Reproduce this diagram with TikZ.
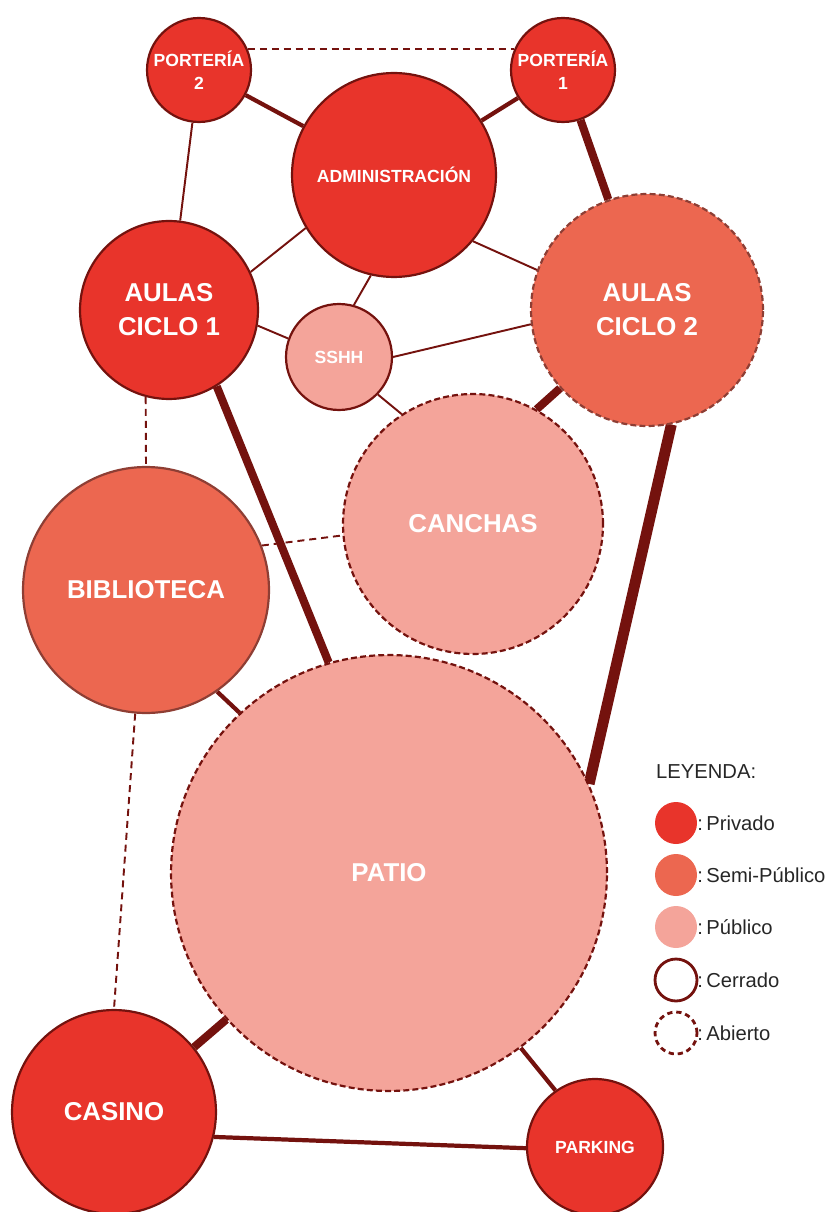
\documentclass[tikz,border=0pt]{standalone}
\usepackage{fontspec}
\setmainfont{Liberation Sans}
\usetikzlibrary{backgrounds}
\definecolor{privado}{HTML}{E8342B}
\definecolor{semipub}{HTML}{EC6750}
\definecolor{publico}{HTML}{F4A49A}
\definecolor{borde}{HTML}{74120E}
\definecolor{bordesemi}{HTML}{8E3E34}
\tikzset{line width=1.1pt,
  every node/.style={text=white},
  zona/.style={circle,draw=borde,line width=1.25pt,inner sep=0pt,align=center},
  priv/.style={zona,fill=privado},
  semi/.style={zona,fill=semipub,draw=bordesemi},
  pub/.style={zona,fill=publico},
  abierto/.style={dash pattern=on 3.4pt off 1.8pt},
  grande/.style={font=\fontsize{14.7}{19.3}\selectfont\bfseries},
  chico/.style={font=\fontsize{10}{13}\selectfont\bfseries},
  nexo/.style={draw=borde,line width=1.1pt},
  nexomed/.style={draw=borde,line width=2.4pt},
  nexogrueso/.style={draw=borde,line width=4.6pt},
  nexomax/.style={draw=borde,line width=6.2pt},
  nexoab/.style={draw=borde,line width=1.1pt,dash pattern=on 4pt off 2.8pt},
  leyenda/.style={anchor=west,text=black!85,font=\fontsize{11.5}{14}\selectfont},
  muestra/.style={circle,inner sep=0pt,minimum size=0.84cm},
  mpriv/.style={muestra,fill=privado},
  msemi/.style={muestra,fill=semipub},
  mpub/.style={muestra,fill=publico},
  mcerr/.style={muestra,draw=borde,fill=white,line width=1.6pt},
  mabie/.style={muestra,draw=borde,fill=white,line width=1.6pt,
    dash pattern=on 3pt off 2.2pt}}

\begin{document}
\begin{tikzpicture}[x=0.02cm,y=-0.02cm]
\useasboundingbox (0,0) rectangle (837,1212);
% zonas
\node[priv,chico,minimum size=2.08cm] (porteria2) at (199,70) {PORTERÍA\\2};
\node[priv,chico,minimum size=2.08cm] (porteria1) at (563,70) {PORTERÍA\\1};
\node[priv,chico,minimum size=4.08cm] (admin) at (394,175) {ADMINISTRACIÓN};
\node[priv,grande,minimum size=3.56cm] (aulas1) at (169,310) {AULAS\\CICLO 1};
\node[pub,chico,minimum size=2.12cm] (sshh) at (339,357) {SSHH};
\node[semi,abierto,grande,minimum size=4.64cm] (aulas2) at (647,310) {AULAS\\CICLO 2};
\node[pub,abierto,grande,minimum size=5.2cm] (canchas) at (473,524) {CANCHAS};
\node[semi,grande,minimum size=4.92cm] (biblio) at (146,590) {BIBLIOTECA};
\node[pub,abierto,grande,minimum size=8.72cm] (patio) at (389,873) {PATIO};
\node[priv,grande,minimum size=4.08cm] (casino) at (114,1112) {CASINO};
\node[priv,chico,minimum size=2.72cm] (parking) at (595,1147) {PARKING};

% conexiones
\begin{scope}[on background layer]
\draw[nexoab] (porteria2.23) -- (porteria1.157);
\draw[nexomed] (porteria2) -- (admin);
\draw[nexomed] (porteria1) -- (admin);
\draw[nexo] (porteria2) -- (aulas1);
\draw[nexogrueso] (porteria1) -- (aulas2);
\draw[nexo] (admin.211) -- (aulas1.25);
\draw[nexo] (admin.-103) -- (sshh.74);
\draw[nexo] (admin.-40) -- (aulas2.160);
\draw[nexo] (aulas1.-10) -- (sshh.160);
\draw[nexo] (sshh.0) -- (aulas2.187);
\draw[nexo] (sshh.-44) -- (canchas.123);
\draw[nexogrueso] (aulas2.222) -- (canchas.61);
\draw[nexogrueso] (aulas1.-58) -- (patio.106);
\draw[nexomax] (aulas2.-78) -- (patio.24);
\draw[nexoab] (aulas1.-105) -- (biblio.90);
\draw[nexoab] (biblio.21) -- (canchas.185);
\draw[nexomed] (biblio.-55) -- (patio.133);
\draw[nexoab] (biblio.-95) -- (casino.90);
\draw[nexogrueso] (patio.222) -- (casino.39);
\draw[nexomed] (patio.-53) -- (parking.125);
\draw[nexomed] (casino.-14) -- (parking.181);
\end{scope}

% leyenda
\node[leyenda] (titulo) at (650,772) {LEYENDA:};
\foreach \y/\estilo/\lab [count=\i] in {823/mpriv/Privado,
    875/msemi/Semi-Público,927/mpub/Público,
    980/mcerr/Cerrado,1033/mabie/Abierto} {
  \node[\estilo] (m\i) at (676,\y) {};
  \node[leyenda,inner sep=0pt] (t\i) at (697,\y) {:\,\lab};
}
\end{tikzpicture}
\end{document}
